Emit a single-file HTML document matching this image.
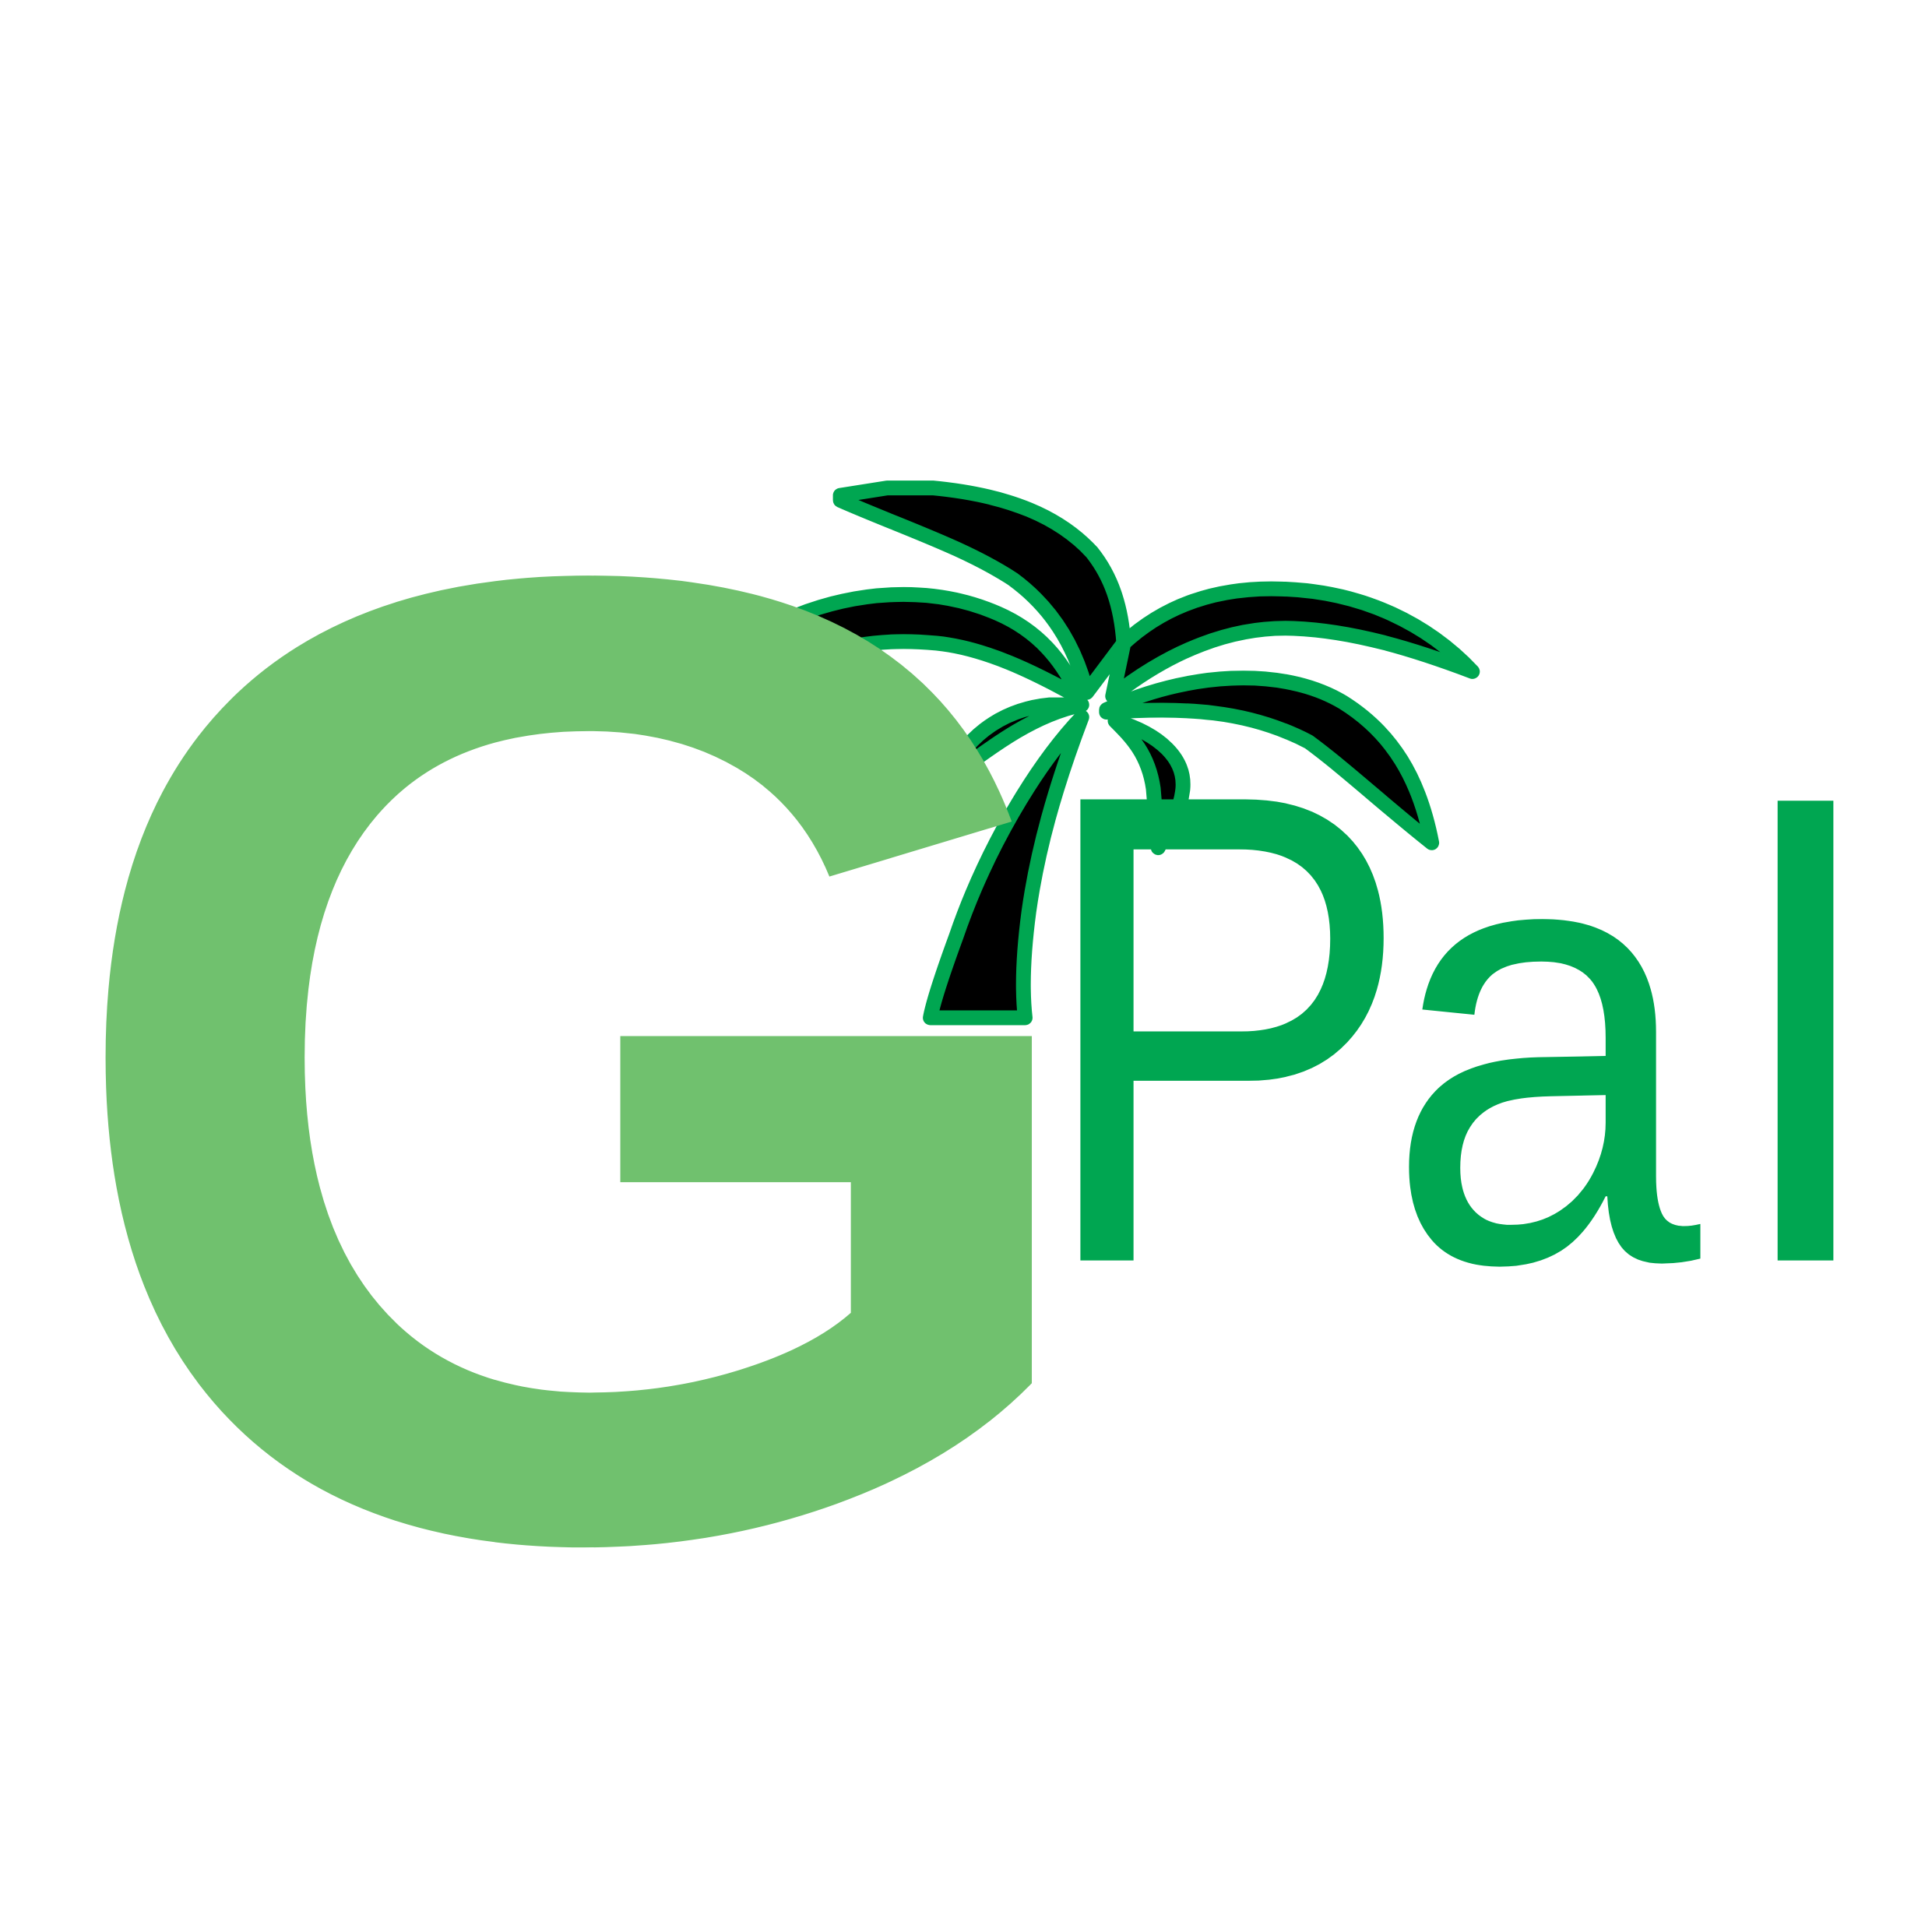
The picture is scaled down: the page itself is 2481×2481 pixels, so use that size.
<!DOCTYPE html>
<html><head><meta charset="utf-8"><style>
html,body{margin:0;padding:0;background:#fff;}
svg{display:block;}
</style></head><body>
<svg width="2481" height="2481" viewBox="0 0 1568 1568" xmlns="http://www.w3.org/2000/svg">
<rect width="1568" height="1568" fill="#fff"/>
<g fill="#000" stroke="#00a651" stroke-width="12" stroke-linejoin="round">
  <path d="M645,500 C700,478 760,476 810,498 C842,512 862,535 876,566 C840,546 800,526 760,522 C738,520 718,520 695,524 Z"/>
  <path d="M682,402 L720,396 L757,396 C820,402 860,420 886,448 C902,468 910,492 912,522 L882,562 C872,522 852,492 822,470 C782,444 732,428 682,406 Z"/>
  <path d="M903,565 C950,528 1000,508 1050,510 C1100,512 1150,528 1195,545 C1160,508 1108,480 1040,478 C980,476 940,496 912,522 Z"/>
  <path d="M898,576 C962,546 1040,540 1090,570 C1130,595 1152,632 1162,684 C1124,654 1092,624 1062,602 C1012,576 962,574 898,578 Z"/>
  <path d="M770,632 C780,602 810,576 852,572 L878,572 C840,580 810,602 770,632 Z"/>
  <path d="M905,585 C942,596 962,616 960,640 C958,660 948,672 940,688 L936,640 C932,612 918,598 905,585 Z"/>
  <path d="M878,582 C840,622 800,690 776,760 C765,790 757,815 755,826 L832,826 C829,800 831,770 835,740 C842,690 856,640 878,582 Z"/>
</g>
<text x="40" y="1245" font-family="'Liberation Sans', sans-serif" font-weight="bold" font-size="1114" fill="#70c16e">G</text>
<g font-family="'Liberation Sans', sans-serif" font-size="515" fill="#00a651">
  <text transform="translate(878,1023) scale(0.85,1)" x="-46" y="0" font-size="544">P</text>
  <text x="1124" y="1023" textLength="256" lengthAdjust="spacingAndGlyphs">a</text>
  <text x="1408" y="1023">l</text>
</g>
</svg>
</body></html>
